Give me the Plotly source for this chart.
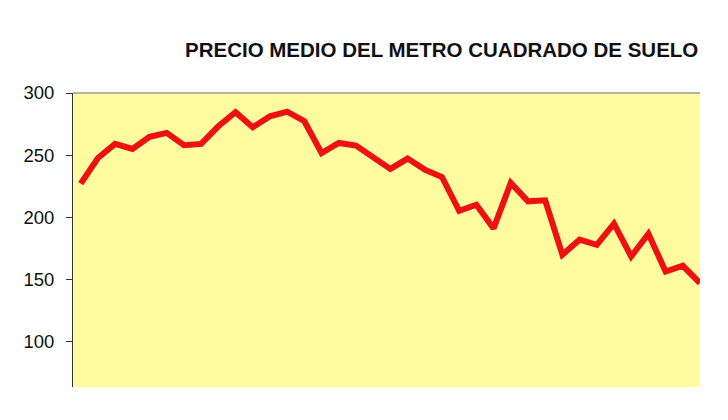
import plotly.graph_objects as go

periods = list(range(1, 38))
precio = [227, 247.7, 259, 255, 264.7, 267.9, 257.9, 259, 273.2, 284.5, 272.4, 281.3, 285,
          277.3, 251.7, 259.8, 257.7, 248.5, 238.9, 247.2, 238.3, 232.4, 205.2, 210, 191,
          227.6, 212.8, 213.6, 169.8, 181.9, 177.8, 194.8, 168.4, 186.7, 156.3, 160.9, 147]
y_ticks = [100, 150, 200, 250, 300]
title_text = "PRECIO MEDIO DEL METRO CUADRADO DE SUELO"

fig = go.Figure()
fig.add_trace(go.Scatter(x=periods, y=precio, mode="lines",
                         line=dict(color="#EE1111", width=6), hoverinfo="skip"))

# page body has an 8px margin; figure is offset accordingly
fig.update_layout(
    width=720, height=412,
    margin=dict(l=65, r=28, t=85, b=33),
    paper_bgcolor="white", plot_bgcolor="#FFFB9E",
    showlegend=False,
    font=dict(family="Liberation Sans, Arial, sans-serif", color="#111111"),
    xaxis=dict(range=[0.55, 37], showgrid=False, zeroline=False, showticklabels=False,
               ticks="", showline=False),
    yaxis=dict(range=[63.3, 300], tickvals=y_ticks, showgrid=False, zeroline=False,
               ticks="outside", ticklen=6, tickcolor="#333333", tickwidth=1,
               showline=True, linecolor="#333333", linewidth=1,
               tickfont=dict(size=18.5, color="#111111"), ticklabelstandoff=8),
    shapes=[dict(type="line", xref="paper", yref="paper", x0=0, x1=1, y0=1, y1=1,
                 line=dict(color="#999999", width=1.5))],
    annotations=[dict(text="<b>" + title_text + "</b>", xref="paper", yref="paper",
                      x=1.0, y=1 + (93 - 50) / 294, xanchor="right", yanchor="middle",
                      showarrow=False, font=dict(size=20.5, color="#111111"))],
)

fig.write_html("out.html")
